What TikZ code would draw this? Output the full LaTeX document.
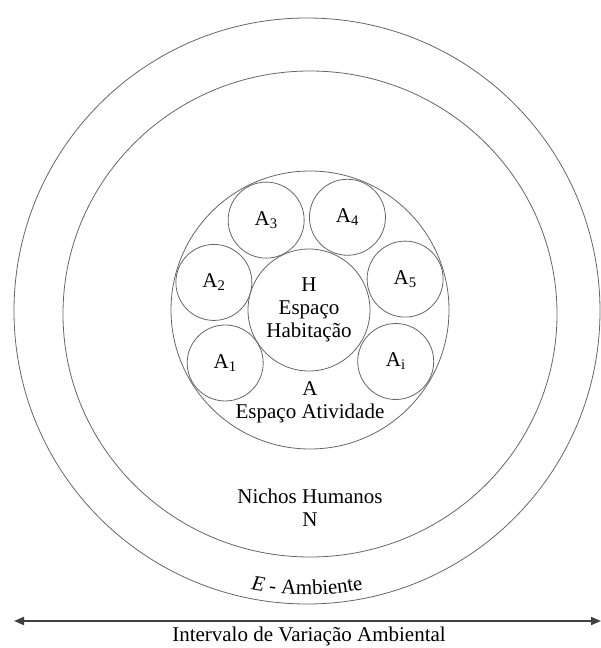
\documentclass[tikz,border=0pt]{standalone}
\usepackage{fontspec}
\setmainfont{Liberation Serif}
\usetikzlibrary{arrows.meta, decorations.text}
\tikzset{
  >={Triangle[length=10pt, width=8pt]},
  ring/.style  = {draw=black!60, line width=0.8pt},
  space/.style = {ring, circle, inner sep=0pt, align=center},
  hab/.style   = {space, minimum size=122pt},
  act/.style   = {space, minimum size=76pt},
  lbl/.style   = {align=center, inner sep=1pt},
  arrow/.style = {<->, line width=1.8pt, draw=black!75, fill=black!75},
}

\begin{document}
\fontsize{21}{23}\selectfont
\begin{tikzpicture}[x=1pt, y=1pt]
  \useasboundingbox (0,0) rectangle (601,648);

  % environment and niche rings
  \draw[ring] (307,337) circle[radius=293pt];
  \draw[ring] (310,334) circle[x radius=247pt, y radius=243pt];

  % activity space with habitat and activities
  \node[space, minimum size=278pt] (A) at (310,338) {};
  \node[hab]                       (H) at (309,338) {H\\Espaço\\Habitação};
  \foreach \ang/\idx in {212/1, 164/2, 116/3, 68/4, 18/5, -31/i}
    \node[act] (a\idx) at ([shift={(\ang:100pt)}]A.center) {A\textsubscript{\idx}};

  \node[lbl] (Alab) at (310,246) {A\\Espaço Atividade};
  \node[lbl] (Nlab) at (310,140) {Nichos Humanos\\N};

  % label bent along the outer ring
  \path[decorate, decoration={text along path, text align=center,
        text={|\itshape|E|| - Ambiente}}]
    (307,337) ++(240:284pt) arc[start angle=240, end angle=300, radius=284pt];

  % range arrow
  \coordinate (arrL) at (14,27);
  \coordinate (arrR) at (601,27);
  \draw[arrow] (arrL) -- (arrR);
  \node[lbl, anchor=base] (range) at (309,6) {Intervalo de Variação Ambiental};
\end{tikzpicture}
\end{document}
